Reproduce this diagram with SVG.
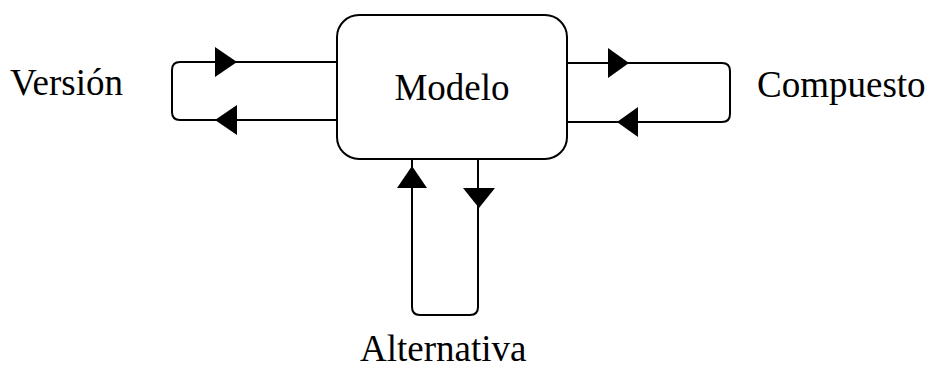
<svg xmlns="http://www.w3.org/2000/svg" width="929" height="369" viewBox="0 0 929 369">
  <style>
    .line { fill: none; stroke: #000; stroke-width: 2; stroke-linejoin: round; }
    .head { fill: #000; stroke: none; }
    .label { font-family: "Liberation Serif", "Times New Roman", serif; font-size: 37px; fill: #000; }
  </style>
  <rect width="929" height="369" fill="#fff"/>

  <!-- central node -->
  <g id="modelo">
    <rect class="line" x="337" y="15" width="230" height="144" rx="22" ry="22"/>
    <text class="label" x="452" y="100" text-anchor="middle">Modelo</text>
  </g>

  <g id="version">
    <text class="label" x="10" y="95">Versión</text>
  </g>

  <g id="compuesto">
    <text class="label" x="757" y="97">Compuesto</text>
  </g>

  <g id="alternativa">
    <text class="label" x="360" y="361">Alternativa</text>
  </g>

  <!-- self-loops around the central node -->
  <g id="connectors">
    <!-- Versión loop (left) -->
    <path class="line" d="M337,62 H180 Q172,62 172,70 V112 Q172,120 180,120 H337"/>
    <polygon class="head" points="215,47 237,62 215,77"/>
    <polygon class="head" points="237,105 215,120 237,135"/>

    <!-- Compuesto loop (right) -->
    <path class="line" d="M567,63 H722 Q730,63 730,71 V114 Q730,122 722,122 H567"/>
    <polygon class="head" points="608,48 629,63 608,78"/>
    <polygon class="head" points="638,107 617,122 638,137"/>

    <!-- Alternativa loop (bottom) -->
    <path class="line" d="M412,159 V307 Q412,315 420,315 H470 Q478,315 478,307 V159"/>
    <polygon class="head" points="397,188 412,166 427,188"/>
    <polygon class="head" points="463,188 479,208 495,188"/>
  </g>
</svg>
